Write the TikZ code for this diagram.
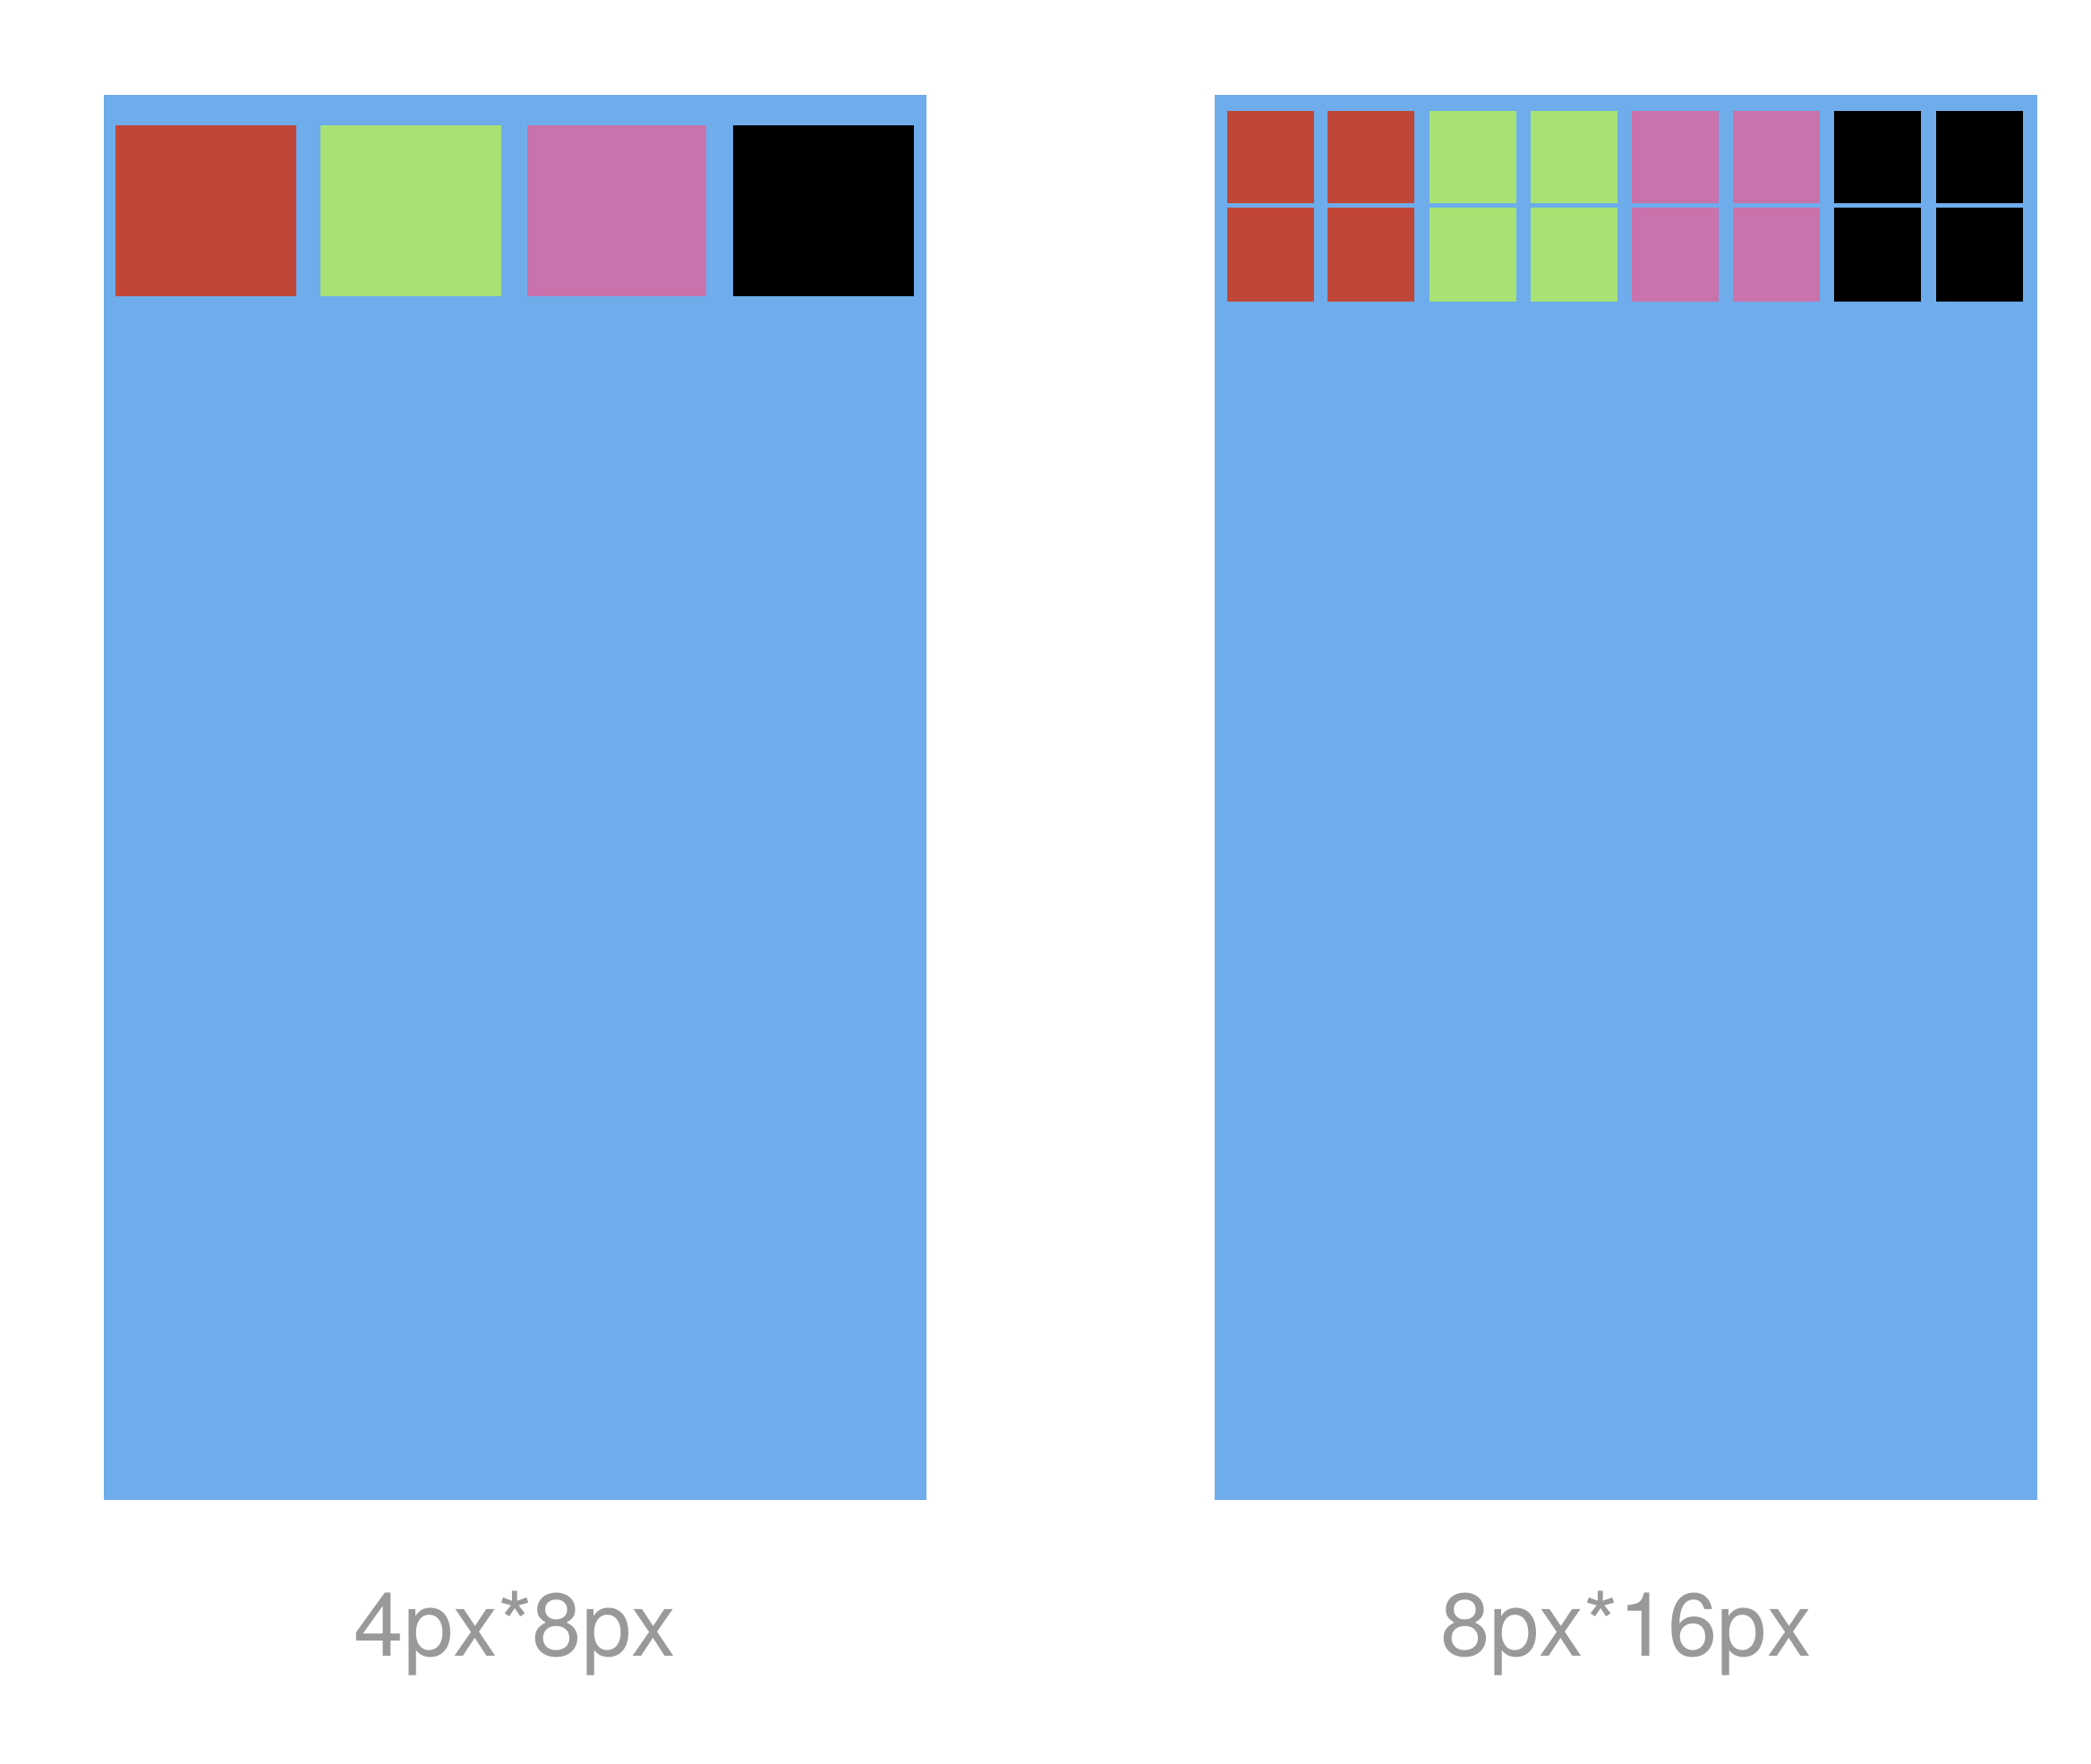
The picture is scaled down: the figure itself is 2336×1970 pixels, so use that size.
\documentclass[tikz,border=0pt]{standalone}
\usepackage{fontspec}
\setmainfont{TeX Gyre Heros}
\definecolor{panelblue}{RGB}{111,172,235}
\definecolor{cred}{RGB}{192,71,55}
\definecolor{cgreen}{RGB}{168,226,116}
\definecolor{cpink}{RGB}{201,114,171}
\definecolor{cblack}{RGB}{0,0,0}
\definecolor{labelgray}{RGB}{153,153,153}
\tikzset{
  panel/.style={fill=panelblue},
  caption/.style={anchor=base, text=labelgray, inner sep=0pt, font=\fontsize{99.5}{119}\selectfont}
}
\begin{document}
\begin{tikzpicture}[x=1pt,y=-1pt]
\useasboundingbox[fill=white] (0,0) rectangle (2336,1970);
% left panel
\fill[panel] (116,106) rectangle (1035,1676);
\fill[cred]   (129,140) rectangle (331,331);
\fill[cgreen] (358,140) rectangle (560,331);
\fill[cpink]  (589,140) rectangle (789,331);
\fill[cblack] (819,140) rectangle (1021,331);
\node[caption] (lab1) at (575.5,1850) {4px*8px};
% right panel
\fill[panel] (1357,106) rectangle (2276,1676);
\foreach \x/\c in {1371/cred,1483/cred,1597/cgreen,1710/cgreen,1823/cpink,1936/cpink,2049/cblack,2163/cblack}{
  \fill[\c] (\x,124) rectangle (\x+97,227);
  \fill[\c] (\x,232) rectangle (\x+97,337);
}
\node[caption] (lab2) at (1816.5,1850) {8px*16px};
\end{tikzpicture}
\end{document}
